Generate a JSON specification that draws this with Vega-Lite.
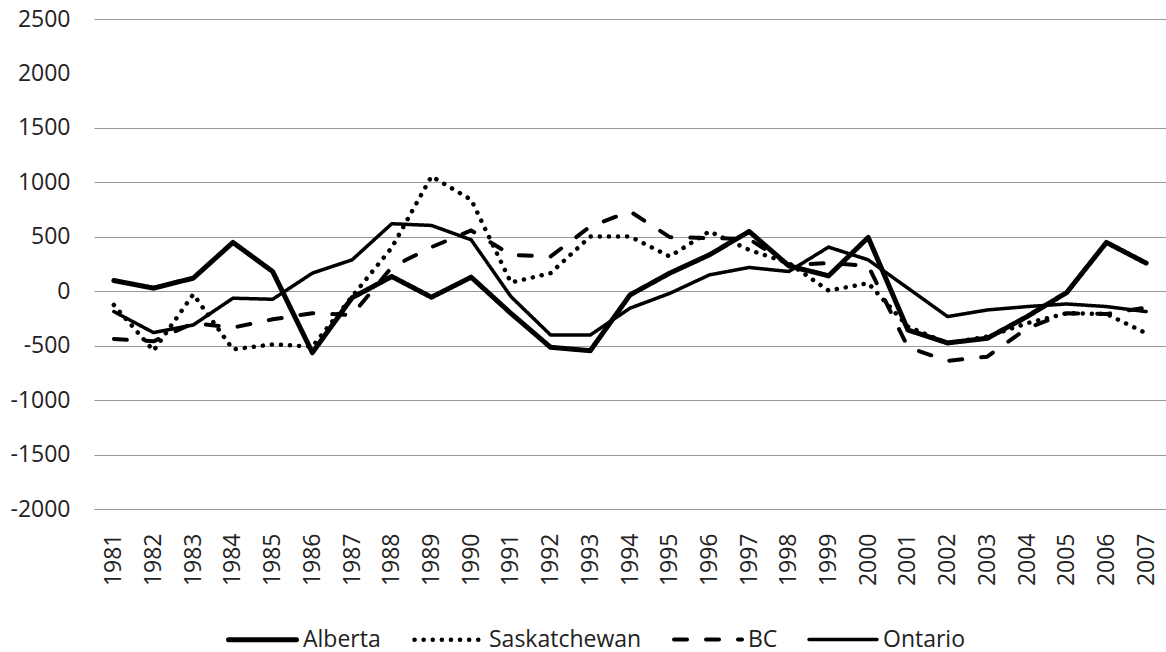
{
  "$schema": "https://vega.github.io/schema/vega-lite/v6.json",
  "width": 1072,
  "height": 490,
  "autosize": {"type": "none"},
  "padding": {"left": 94, "top": 19, "right": 0, "bottom": 143},
  "background": "white",
  "config": {"view": {"stroke": null}, "font": "Open Sans"},
  "data": {"values": [
    {"year": "1981", "province": "Alberta", "value": 98},
    {"year": "1982", "province": "Alberta", "value": 28},
    {"year": "1983", "province": "Alberta", "value": 120},
    {"year": "1984", "province": "Alberta", "value": 448},
    {"year": "1985", "province": "Alberta", "value": 181},
    {"year": "1986", "province": "Alberta", "value": -564},
    {"year": "1987", "province": "Alberta", "value": -60},
    {"year": "1988", "province": "Alberta", "value": 135},
    {"year": "1989", "province": "Alberta", "value": -55},
    {"year": "1990", "province": "Alberta", "value": 129},
    {"year": "1991", "province": "Alberta", "value": -203},
    {"year": "1992", "province": "Alberta", "value": -515},
    {"year": "1993", "province": "Alberta", "value": -546},
    {"year": "1994", "province": "Alberta", "value": -34},
    {"year": "1995", "province": "Alberta", "value": 166},
    {"year": "1996", "province": "Alberta", "value": 334},
    {"year": "1997", "province": "Alberta", "value": 549},
    {"year": "1998", "province": "Alberta", "value": 233},
    {"year": "1999", "province": "Alberta", "value": 141},
    {"year": "2000", "province": "Alberta", "value": 494},
    {"year": "2001", "province": "Alberta", "value": -356},
    {"year": "2002", "province": "Alberta", "value": -475},
    {"year": "2003", "province": "Alberta", "value": -432},
    {"year": "2004", "province": "Alberta", "value": -233},
    {"year": "2005", "province": "Alberta", "value": -12},
    {"year": "2006", "province": "Alberta", "value": 448},
    {"year": "2007", "province": "Alberta", "value": 258},
    {"year": "1981", "province": "Saskatchewan", "value": -126},
    {"year": "1982", "province": "Saskatchewan", "value": -546},
    {"year": "1983", "province": "Saskatchewan", "value": -28},
    {"year": "1984", "province": "Saskatchewan", "value": -534},
    {"year": "1985", "province": "Saskatchewan", "value": -488},
    {"year": "1986", "province": "Saskatchewan", "value": -509},
    {"year": "1987", "province": "Saskatchewan", "value": -49},
    {"year": "1988", "province": "Saskatchewan", "value": 400},
    {"year": "1989", "province": "Saskatchewan", "value": 1055},
    {"year": "1990", "province": "Saskatchewan", "value": 840},
    {"year": "1991", "province": "Saskatchewan", "value": 80},
    {"year": "1992", "province": "Saskatchewan", "value": 166},
    {"year": "1993", "province": "Saskatchewan", "value": 503},
    {"year": "1994", "province": "Saskatchewan", "value": 503},
    {"year": "1995", "province": "Saskatchewan", "value": 319},
    {"year": "1996", "province": "Saskatchewan", "value": 549},
    {"year": "1997", "province": "Saskatchewan", "value": 380},
    {"year": "1998", "province": "Saskatchewan", "value": 258},
    {"year": "1999", "province": "Saskatchewan", "value": 6},
    {"year": "2000", "province": "Saskatchewan", "value": 74},
    {"year": "2001", "province": "Saskatchewan", "value": -325},
    {"year": "2002", "province": "Saskatchewan", "value": -478},
    {"year": "2003", "province": "Saskatchewan", "value": -417},
    {"year": "2004", "province": "Saskatchewan", "value": -294},
    {"year": "2005", "province": "Saskatchewan", "value": -202},
    {"year": "2006", "province": "Saskatchewan", "value": -209},
    {"year": "2007", "province": "Saskatchewan", "value": -386},
    {"year": "1981", "province": "BC", "value": -439},
    {"year": "1982", "province": "BC", "value": -460},
    {"year": "1983", "province": "BC", "value": -294},
    {"year": "1984", "province": "BC", "value": -334},
    {"year": "1985", "province": "BC", "value": -258},
    {"year": "1986", "province": "BC", "value": -202},
    {"year": "1987", "province": "BC", "value": -218},
    {"year": "1988", "province": "BC", "value": 221},
    {"year": "1989", "province": "BC", "value": 405},
    {"year": "1990", "province": "BC", "value": 558},
    {"year": "1991", "province": "BC", "value": 334},
    {"year": "1992", "province": "BC", "value": 319},
    {"year": "1993", "province": "BC", "value": 595},
    {"year": "1994", "province": "BC", "value": 733},
    {"year": "1995", "province": "BC", "value": 497},
    {"year": "1996", "province": "BC", "value": 488},
    {"year": "1997", "province": "BC", "value": 480},
    {"year": "1998", "province": "BC", "value": 242},
    {"year": "1999", "province": "BC", "value": 258},
    {"year": "2000", "province": "BC", "value": 233},
    {"year": "2001", "province": "BC", "value": -515},
    {"year": "2002", "province": "BC", "value": -640},
    {"year": "2003", "province": "BC", "value": -601},
    {"year": "2004", "province": "BC", "value": -340},
    {"year": "2005", "province": "BC", "value": -202},
    {"year": "2006", "province": "BC", "value": -209},
    {"year": "2007", "province": "BC", "value": -150},
    {"year": "1981", "province": "Ontario", "value": -187},
    {"year": "1982", "province": "Ontario", "value": -380},
    {"year": "1983", "province": "Ontario", "value": -310},
    {"year": "1984", "province": "Ontario", "value": -64},
    {"year": "1985", "province": "Ontario", "value": -74},
    {"year": "1986", "province": "Ontario", "value": 166},
    {"year": "1987", "province": "Ontario", "value": 288},
    {"year": "1988", "province": "Ontario", "value": 620},
    {"year": "1989", "province": "Ontario", "value": 604},
    {"year": "1990", "province": "Ontario", "value": 472},
    {"year": "1991", "province": "Ontario", "value": -49},
    {"year": "1992", "province": "Ontario", "value": -402},
    {"year": "1993", "province": "Ontario", "value": -402},
    {"year": "1994", "province": "Ontario", "value": -156},
    {"year": "1995", "province": "Ontario", "value": -20},
    {"year": "1996", "province": "Ontario", "value": 150},
    {"year": "1997", "province": "Ontario", "value": 218},
    {"year": "1998", "province": "Ontario", "value": 181},
    {"year": "1999", "province": "Ontario", "value": 405},
    {"year": "2000", "province": "Ontario", "value": 288},
    {"year": "2001", "province": "Ontario", "value": 28},
    {"year": "2002", "province": "Ontario", "value": -233},
    {"year": "2003", "province": "Ontario", "value": -172},
    {"year": "2004", "province": "Ontario", "value": -141},
    {"year": "2005", "province": "Ontario", "value": -117},
    {"year": "2006", "province": "Ontario", "value": -141},
    {"year": "2007", "province": "Ontario", "value": -187}
  ]},
  "mark": {"type": "line", "color": "black", "strokeCap": "round", "strokeJoin": "round"},
  "encoding": {
    "x": {
      "field": "year", "type": "ordinal",
      "scale": {"type": "point", "padding": 0.5},
      "axis": {
        "title": null, "labelAngle": -90, "labelFont": "Open Sans", "labelFontSize": 23,
        "labelColor": "#222", "labelPadding": 24, "ticks": false, "tickSize": 0,
        "domain": true, "domainColor": "#999", "domainWidth": 1, "grid": false
      }
    },
    "y": {
      "field": "value", "type": "quantitative",
      "scale": {"domain": [-2000, 2500], "nice": false, "zero": false},
      "axis": {
        "title": null,
        "values": [-2000, -1500, -1000, -500, 0, 500, 1000, 1500, 2000, 2500],
        "labelExpr": "'' + datum.value",
        "labelFont": "Open Sans", "labelFontSize": 23, "labelColor": "#222",
        "labelPadding": 24, "ticks": false, "tickSize": 0, "domain": false,
        "grid": true, "gridColor": "#999", "gridWidth": 1,
        "gridOpacity": {"condition": {"test": "datum.value === 2000", "value": 0}, "value": 1}
      }
    },
    "strokeDash": {
      "field": "province", "type": "nominal",
      "scale": {
        "domain": ["Alberta", "Saskatchewan", "BC", "Ontario"],
        "range": [[1, 0], [0.1, 9], [13, 19], [1, 0]]
      },
      "legend": {
        "title": null, "orient": "none", "legendX": 132, "legendY": 584,
        "direction": "horizontal", "symbolType": "stroke", "symbolSize": 4624,
        "labelFont": "Open Sans", "labelFontSize": 23, "labelColor": "#222",
        "labelOffset": 4, "columnPadding": 24, "symbolStrokeColor": "black",
        "encode": {"symbols": {"update": {
          "strokeCap": {"value": "round"},
          "stroke": {"value": "black"}
        }}}
      }
    },
    "strokeWidth": {
      "field": "province", "type": "nominal",
      "scale": {
        "domain": ["Alberta", "Saskatchewan", "BC", "Ontario"],
        "range": [5, 3.5, 4.5, 2.5]
      },
      "legend": {
        "title": null, "orient": "none", "legendX": 132, "legendY": 584,
        "direction": "horizontal", "symbolType": "stroke", "symbolSize": 4624,
        "labelFont": "Open Sans", "labelFontSize": 23, "labelColor": "#222",
        "labelOffset": 4, "columnPadding": 24, "symbolStrokeColor": "black",
        "encode": {"symbols": {"update": {
          "strokeCap": {"value": "round"},
          "stroke": {"value": "black"}
        }}}
      }
    }
  }
}
